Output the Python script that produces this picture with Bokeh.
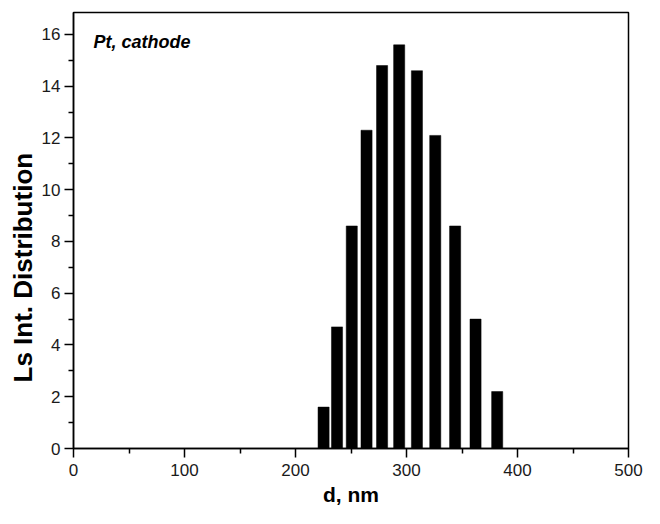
from bokeh.plotting import figure
from bokeh.models import Range1d, FixedTicker, Label, Title
from bokeh.embed import file_html
from bokeh.resources import INLINE

# Data: DLS intensity distribution, Pt cathode
d_nm = [225.3, 237.4, 250.7, 264.0, 278.0, 293.4, 309.4, 325.9, 343.8, 362.2, 381.7]
intensity = [1.6, 4.7, 8.6, 12.3, 14.8, 15.6, 14.6, 12.1, 8.6, 5.0, 2.2]
bar_width = 10.0

x_ticks = [0, 100, 200, 300, 400, 500]
x_minor = [50, 150, 250, 350, 450]
y_ticks = [0, 2, 4, 6, 8, 10, 12, 14, 16]
y_minor = [1, 3, 5, 7, 9, 11, 13, 15]

FONT = "Liberation Sans"

p = figure(width=644, height=508, output_backend="svg", toolbar_location=None,
           x_range=Range1d(0, 500), y_range=Range1d(0, 16.85),
           min_border_left=73, min_border_right=16, min_border_top=12, min_border_bottom=60)

p.vbar(x=d_nm, top=intensity, width=bar_width, bottom=0,
       fill_color="black", line_color="black", line_width=0.5)

p.grid.visible = False
p.outline_line_color = "black"
p.outline_line_width = 1.5
p.outline_line_alpha = 1.0

for ax in (p.xaxis[0], p.yaxis[0]):
    ax.axis_line_width = 1.5
    ax.major_tick_line_width = 1.5
    ax.minor_tick_line_width = 1.5
    ax.major_tick_out = 9
    ax.major_tick_in = 0
    ax.minor_tick_out = 5
    ax.minor_tick_in = 0
    ax.major_label_text_font = FONT
    ax.major_label_text_font_size = "17px"
    ax.major_label_text_color = "#1a1a1a"
    ax.axis_label_text_font = FONT
    ax.axis_label_text_font_style = "bold"
    ax.axis_label_text_color = "black"

p.xaxis[0].ticker = FixedTicker(ticks=x_ticks, minor_ticks=x_minor)
p.yaxis[0].ticker = FixedTicker(ticks=y_ticks, minor_ticks=y_minor)
p.xaxis[0].axis_label = "d, nm"
p.xaxis[0].axis_label_text_font_size = "21px"
p.xaxis[0].major_label_standoff = 6
p.yaxis[0].major_label_standoff = 4
p.xaxis[0].axis_label_standoff = 4

# y-axis title as a side title, shifted upward like the reference
ytitle = Title(text="Ls Int. Distribution", align="left", offset=66,
               text_font=FONT, text_font_size="26px", text_font_style="bold",
               text_color="black", standoff=2)
p.add_layout(ytitle, "left")

p.add_layout(Label(x=18, y=15.7, text="Pt, cathode", text_font=FONT,
                   text_font_size="18px", text_font_style="bold italic",
                   text_baseline="middle", text_color="black"))

open("out.html", "w").write(file_html(p, INLINE))
